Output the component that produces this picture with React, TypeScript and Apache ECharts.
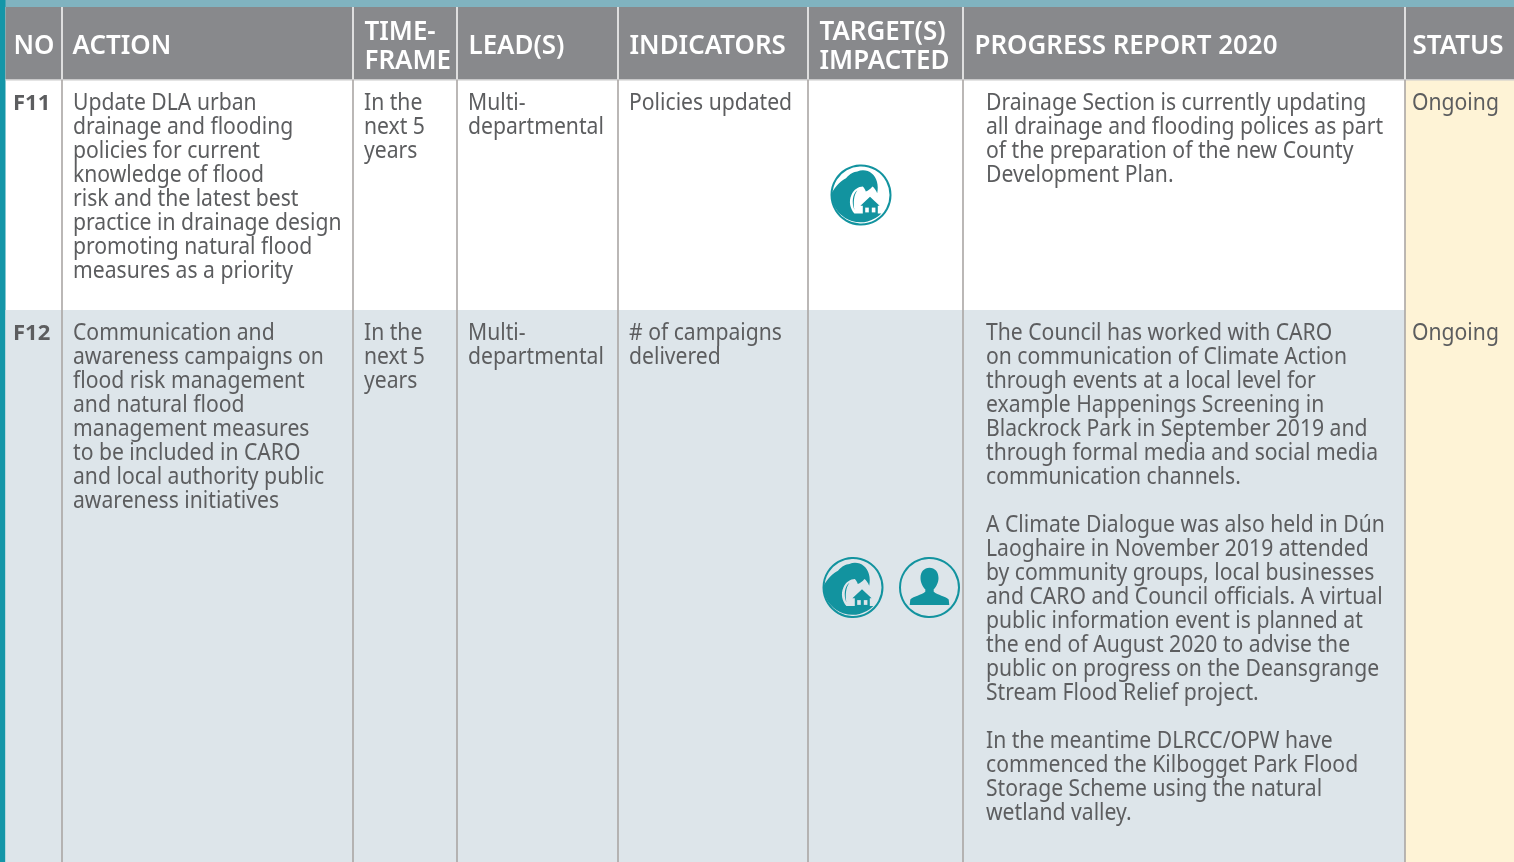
import React, { useEffect, useRef } from "react";
import * as echarts from "echarts";

const headers = [
  { x: 14, lines: ["NO"] },
  { x: 73, lines: ["ACTION"] },
  { x: 365, lines: ["TIME-", "FRAME"] },
  { x: 469, lines: ["LEAD(S)"] },
  { x: 630, lines: ["INDICATORS"] },
  { x: 820, lines: ["TARGET(S)", "IMPACTED"] },
  { x: 975, lines: ["PROGRESS REPORT 2020"] },
  { x: 1413, lines: ["STATUS"] },
];

const f11Action = ["Update DLA urban", "drainage and flooding", "policies for current", "knowledge of flood", "risk and the latest best", "practice in drainage design", "promoting natural flood", "measures as a priority"];
const f12Action = ["Communication and", "awareness campaigns on", "flood risk management", "and natural flood", "management measures", "to be included in CARO", "and local authority public", "awareness initiatives"];
const timeframe = ["In the", "next 5", "years"];
const leads = ["Multi-", "departmental"];
const f11Indicators = ["Policies updated"];
const f12Indicators = ["# of campaigns", "delivered"];
const f11Progress = ["Drainage Section is currently updating", "all drainage and flooding polices as part", "of the preparation of the new County", "Development Plan."];
const f12Progress = [
  "The Council has worked with CARO", "on communication of Climate Action", "through events at a local level for", "example Happenings Screening in", "Blackrock Park in September 2019 and", "through formal media and social media", "communication channels.", "",
  "A Climate Dialogue was also held in Dún", "Laoghaire in November 2019 attended", "by community groups, local businesses", "and CARO and Council officials. A virtual", "public information event is planned at", "the end of August 2020 to advise the", "public on progress on the Deansgrange", "Stream Flood Relief project.", "",
  "In the meantime DLRCC/OPW have", "commenced the Kilbogget Park Flood", "Storage Scheme using the natural", "wetland valley.",
];
const statusText = ["Ongoing"];
const dividers = [62, 353, 457, 618, 808, 963, 1405];

const TEAL = "#12939f";
const INK = "#5c5d5f";
const FONT = "'Noto Sans'";
const BODY_SIZE = 23;
const BODY_SCALE = 0.92;
const HEAD_SIZE = 27;
const HEAD_SCALE = 0.96;

const waveD = "M1 47 C8 34 17 26 25 22 C32 14 38 12 44 11 C52 7 62 9 68 14 C76 20 80 34 77 47 C75 42 72 38 69 36 C66 40 62 43 58 44 C57 41 55 38 53 36 C46 36 38 41 34 50 C29 61 32 73 39 81 L84 81 A49 49 0 0 1 1 55 Z M44 42 C36 48 34 62 39 75 C37 62 38 50 44 42 Z";
const houseD = "M65 53 L49 68 L53 68 L53 82 L78 82 L78 68 L81 68 Z";
const personD = "M50 17 C41 17 35 24 35 34 C35 42 39 49 43 53 L43 57 C36 63 24 64 18 70 L17 79 L83 79 L82 70 C76 64 64 63 57 57 L57 53 C61 49 65 42 65 34 C65 24 59 17 50 17 Z";
echarts.graphic.registerShape("waveShape", echarts.graphic.extendPath(waveD, {}));
echarts.graphic.registerShape("houseShape", echarts.graphic.extendPath(houseD, {}));
echarts.graphic.registerShape("personShape", echarts.graphic.extendPath(personD, {}));

const rect = (x: number, y: number, width: number, height: number, fill: string) => ({
  type: "rect", shape: { x, y, width, height }, style: { fill }, silent: true,
});
const line = (x: number, y1: number, y2: number, stroke: string) => ({
  type: "line", shape: { x1: x, y1, x2: x, y2 }, style: { stroke, lineWidth: 1.6 }, silent: true,
});
const label = (text: string, x: number, y: number, size: number, scale: number, fill: string, fontWeight: number) => ({
  type: "text", x, y, scaleX: scale, originX: 0,
  style: { text, fontFamily: FONT, fontSize: size, fontWeight, fill, textVerticalAlign: "middle", textAlign: "left" },
  silent: true,
});
const column = (lines: string[], x: number, y0: number) =>
  lines.map((t, i) => (t ? label(t, x, y0 + i * 24, BODY_SIZE, BODY_SCALE, INK, 400) : null)).filter(Boolean);

const ring = (cx: number, cy: number) => ({
  type: "circle", shape: { cx, cy, r: 29.5 }, style: { fill: "none", stroke: TEAL, lineWidth: 2 }, silent: true,
});
const waveIcon = (cx: number, cy: number, bg: string) => {
  const x = cx - 30, y = cy - 30, s = 0.6;
  return [
    ring(cx, cy),
    { type: "waveShape", x, y, scaleX: s, scaleY: s, style: { fill: TEAL }, silent: true },
    { type: "houseShape", x, y, scaleX: s, scaleY: s, style: { fill: TEAL }, silent: true },
    rect(x + 57 * s, y + 71 * s, 6 * s, 8 * s, bg),
    rect(x + 68 * s, y + 71 * s, 6 * s, 8 * s, bg),
  ];
};
const personIcon = (cx: number, cy: number) => [
  ring(cx, cy),
  { type: "personShape", x: cx - 30, y: cy - 30, scaleX: 0.6, scaleY: 0.6, style: { fill: TEAL }, silent: true },
];

export default function App() {
  const ref = useRef<HTMLDivElement>(null);
  useEffect(() => {
    const chart = echarts.init(ref.current!, null, { renderer: "svg" });
    const ROW1 = "#ffffff", ROW2 = "#dde5ea";
    const elements: any[] = [
      rect(0, 0, 1514, 862, "#ffffff"),
      rect(0, 0, 1514, 7, "#80b3c0"),
      rect(0, 0, 5.5, 862, "#1496a8"),
      rect(5.5, 7, 1509, 72, "#88898c"),
      rect(5.5, 310, 1400, 552, ROW2),
      rect(1405, 80, 109, 782, "#fef3d6"),
      rect(5.5, 79, 1509, 1.5, "#c9c9ca"),
      ...dividers.map((x) => line(x, 7, 79, "#f4f4f4")),
      ...dividers.map((x) => line(x, 80, 862, "#aaa6a4")),
    ];
    headers.forEach((h) => {
      const ys = h.lines.length === 2 ? [29.5, 58.5] : [43.5];
      h.lines.forEach((t, i) => elements.push(label(t, h.x - 0.5, ys[i], HEAD_SIZE, HEAD_SCALE, "#ffffff", 600)));
    });
    elements.push(label("F11", 13, 101, BODY_SIZE - 1, 1, INK, 700));
    elements.push(label("F12", 13, 331, BODY_SIZE - 1, 1, INK, 700));
    elements.push(
      ...column(f11Action, 73, 101), ...column(timeframe, 364, 101), ...column(leads, 468, 101),
      ...column(f11Indicators, 629, 101), ...column(f11Progress, 986, 101), ...column(statusText, 1412, 101),
      ...column(f12Action, 73, 331), ...column(timeframe, 364, 331), ...column(leads, 468, 331),
      ...column(f12Indicators, 629, 331), ...column(f12Progress, 986, 331), ...column(statusText, 1412, 331),
      ...waveIcon(861, 195, ROW1), ...waveIcon(853, 587.5, ROW2), ...personIcon(929.5, 587.5),
    );
    chart.setOption({ animation: false, graphic: { elements } });
    return () => chart.dispose();
  }, []);
  return <div ref={ref} style={{ position: "fixed", left: 0, top: 0, width: 1514, height: 862 }} />;
}
